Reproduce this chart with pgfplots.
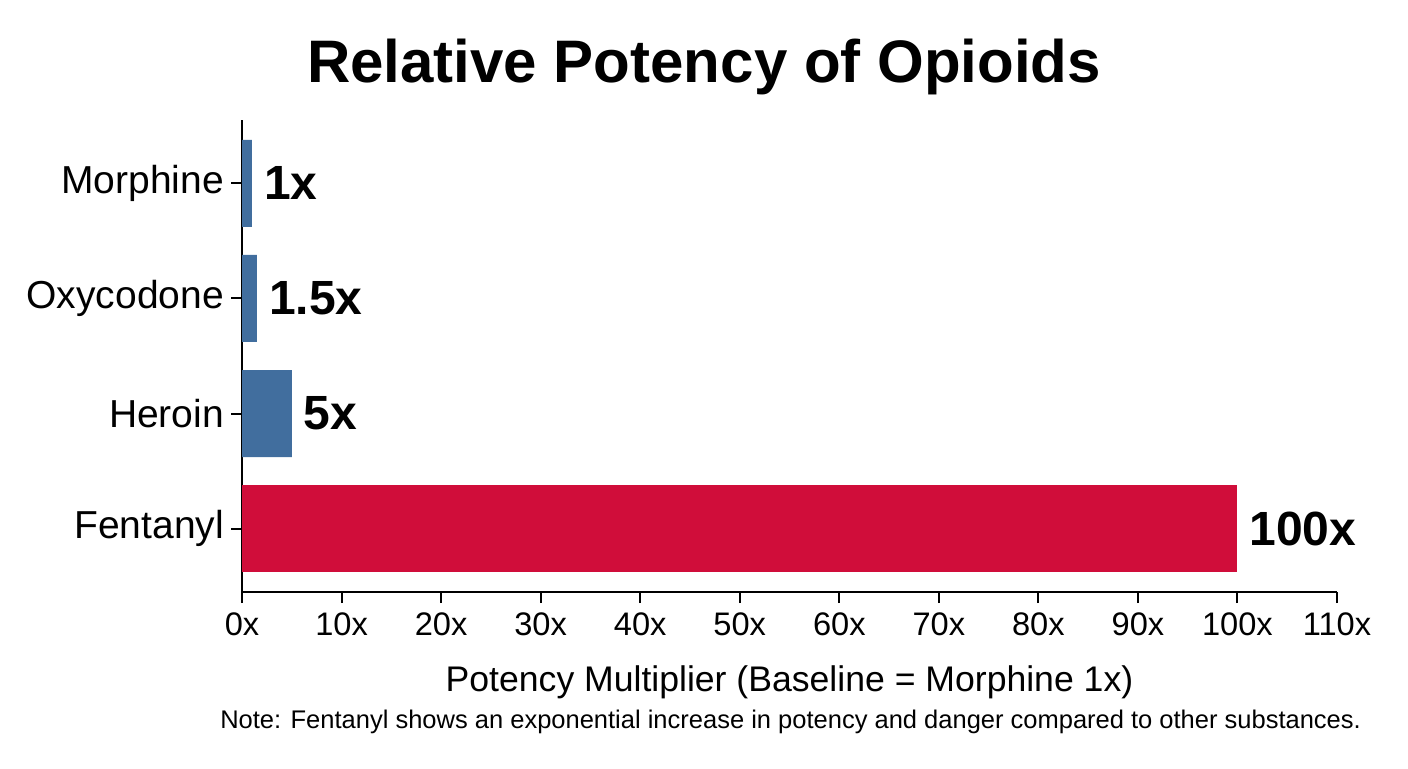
\documentclass[border=0pt]{standalone}
\usepackage{fontspec}
\setmainfont{Liberation Sans}
\usepackage{pgfplots}
\pgfplotsset{compat=1.18}
\definecolor{barblue}{RGB}{65,110,158}
\definecolor{barred}{RGB}{208,13,58}
\begin{document}
\begin{tikzpicture}[x=1pt,y=1pt]
\useasboundingbox (0,0) rectangle (704,384);
\node[anchor=base,font=\fontsize{30}{36}\selectfont\bfseries] at (352,343) {Relative Potency of Opioids};
\begin{axis}[
  at={(121pt,88pt)}, anchor=south west,
  scale only axis, width=547.5pt, height=236pt,
  xmin=0, xmax=110, ymin=-0.55, ymax=3.55,
  axis lines*=left,
  axis line style={line width=1pt},
  tick style={line width=1pt, black},
  tick align=outside, major tick length=5.5pt,
  xtick={0,10,...,110},
  xticklabel={\pgfmathprintnumber[assume math mode=true]{\tick}x},
  ytick={0,1,2,3},
  yticklabels={Fentanyl,Heroin,Oxycodone,Morphine},
  xticklabel style={font=\fontsize{16.3}{19}\selectfont, yshift=-1.5pt},
  yticklabel style={font=\fontsize{19.5}{23}\selectfont},
  xlabel={Potency Multiplier (Baseline = Morphine 1x)},
  xlabel style={font=\fontsize{17.8}{21}\selectfont, yshift=-8pt},
  xbar, bar width=43.5pt, bar shift=0pt,
  nodes near coords={\pgfmathprintnumber[assume math mode=true]{\pgfplotspointmeta}x},
  nodes near coords style={font=\fontsize{24}{28}\selectfont\bfseries, anchor=west, xshift=2.5pt, black},
  point meta=x,
]
\addplot[draw=none, fill=barblue] coordinates {(1,3) (1.5,2) (5,1)};
\addplot[draw=none, fill=barred] coordinates {(100,0)};
\end{axis}
\node[anchor=base east,font=\fontsize{12.75}{15}\selectfont] at (684,20) {Note: Fentanyl shows an exponential increase in potency and danger compared to other substances.};
\end{tikzpicture}
\end{document}
